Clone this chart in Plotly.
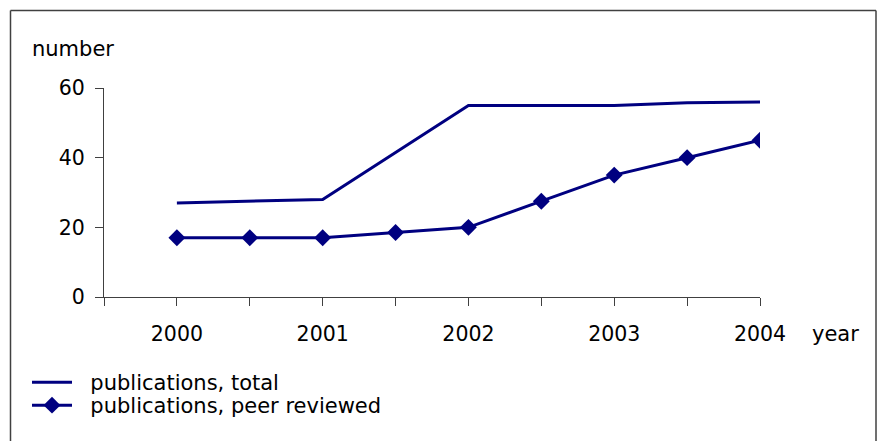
import plotly.graph_objects as go

x_pos = [2000, 2000.5, 2001, 2001.5, 2002, 2002.5, 2003, 2003.5, 2004]
total = [27, 27.5, 28, 41.5, 55, 55, 55, 55.8, 56]
peer = [17, 17, 17, 18.5, 20, 27.5, 35, 40, 45]
year_ticks = [1999.5, 2000, 2000.5, 2001, 2001.5, 2002, 2002.5, 2003, 2003.5, 2004]
year_labels = ["", "2000", "", "2001", "", "2002", "", "2003", "", "2004"]
y_ticks = [0, 20, 40, 60]
series_names = ["publications, total", "publications, peer reviewed"]

NAVY = "#000080"
FONT = "DejaVu Sans"
FS = 21
TFS = 20.5
PAD = "\u00a0\u00a0"

fig = go.Figure()
fig.add_trace(go.Scatter(x=x_pos, y=total, mode="lines", name=PAD + series_names[0],
                         line=dict(color=NAVY, width=3), legend="legend"))
fig.add_trace(go.Scatter(x=x_pos, y=peer, mode="lines+markers", name=PAD + series_names[1],
                         line=dict(color=NAVY, width=3),
                         marker=dict(symbol="diamond", size=13, color=NAVY), legend="legend2"))

W, H = 877, 441
L, T = 104, 88
pw, ph = 656, 209
R, B = W - L - pw, H - T - ph

def px_x(p):
    return (p - L) / pw

def px_y(p):
    return (H - B - p) / ph

def leg(top):
    return dict(x=px_x(27), y=px_y(top), xanchor="left", yanchor="top",
                font=dict(family=FONT, size=FS, color="black"),
                bgcolor="rgba(0,0,0,0)", itemwidth=40)

frame = "#404040"
fig.update_layout(
    width=W, height=H,
    margin=dict(l=L, r=R, t=T, b=B),
    paper_bgcolor="white", plot_bgcolor="white",
    font=dict(family=FONT, size=FS, color="black"),
    showlegend=True,
    legend=leg(362),
    legend2=leg(385),
    xaxis=dict(range=[1999.5, 2004], tickmode="array", tickvals=year_ticks, ticktext=year_labels,
               showgrid=False, zeroline=False, showline=True, linecolor=frame, linewidth=1,
               ticks="outside", ticklen=8, tickcolor=frame, tickwidth=1,
               ticklabelstandoff=10,
               tickfont=dict(family=FONT, size=TFS, color="black")),
    yaxis=dict(range=[0, 60], tickmode="array", tickvals=y_ticks,
               showgrid=False, zeroline=False, showline=True, linecolor=frame, linewidth=1,
               ticks="outside", ticklen=8, tickcolor=frame, tickwidth=1,
               ticklabelstandoff=6,
               tickfont=dict(family=FONT, size=TFS, color="black")),
    annotations=[
        dict(text="number", xref="paper", yref="paper", x=px_x(30), y=px_y(49),
             xanchor="left", yanchor="middle", showarrow=False,
             font=dict(family=FONT, size=FS, color="black")),
        dict(text="year", xref="paper", yref="paper", x=px_x(810), y=px_y(334),
             xanchor="left", yanchor="middle", showarrow=False,
             font=dict(family=FONT, size=FS, color="black")),
    ],
    shapes=[
        dict(type="line", xref="paper", yref="paper", x0=px_x(10.5), x1=px_x(10.5),
             y0=px_y(10.5), y1=px_y(470), line=dict(color=frame, width=1.5), layer="below"),
        dict(type="line", xref="paper", yref="paper", x0=px_x(10.5), x1=px_x(876),
             y0=px_y(10.5), y1=px_y(10.5), line=dict(color=frame, width=1.5), layer="below"),
        dict(type="line", xref="paper", yref="paper", x0=px_x(876), x1=px_x(876),
             y0=px_y(10.5), y1=px_y(470), line=dict(color=frame, width=1.5), layer="below"),
    ],
)

fig.write_html("out.html", config={"displayModeBar": False},
               post_script="document.body.style.margin='0';document.body.style.overflow='hidden';")
